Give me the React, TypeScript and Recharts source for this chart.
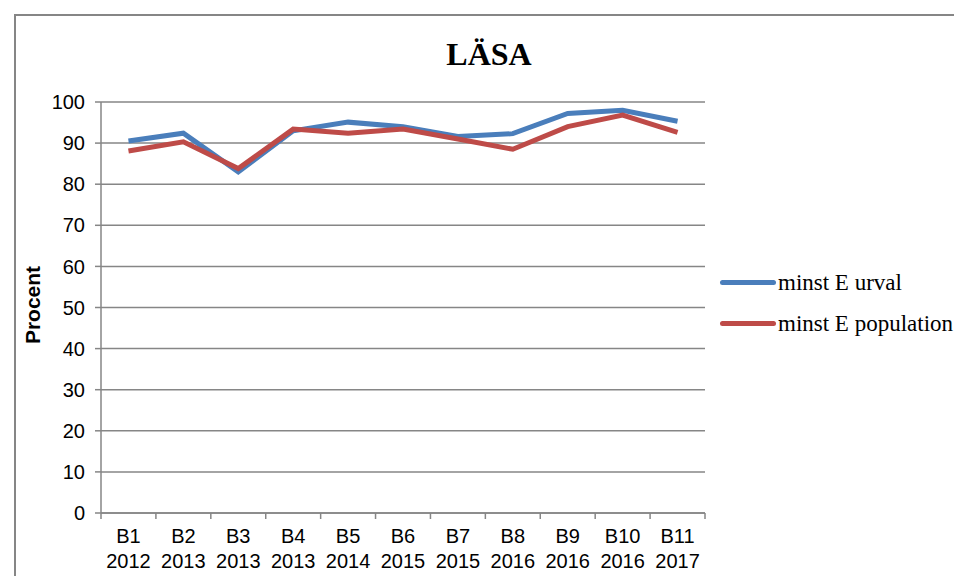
import { CartesianGrid, Line, LineChart, XAxis, YAxis } from "recharts";

const ROUNDS = ["B1", "B2", "B3", "B4", "B5", "B6", "B7", "B8", "B9", "B10", "B11"];
const YEARS = ["2012", "2013", "2013", "2013", "2014", "2015", "2015", "2016", "2016", "2016", "2017"];
const URVAL = [90.5, 92.4, 83, 93, 95.1, 94, 91.6, 92.3, 97.2, 98, 95.3];
const POPULATION = [88.1, 90.3, 83.8, 93.4, 92.4, 93.4, 91, 88.5, 94, 96.8, 92.6];
const Y_TICKS = [0, 10, 20, 30, 40, 50, 60, 70, 80, 90, 100];

const BLUE = "#4a7ebb";
const RED = "#be4b48";
const GRAY = "#868686";
const SANS = "'Liberation Sans', Arial, sans-serif";
const SERIF = "'Liberation Serif', 'Times New Roman', serif";

const W = 962;
const H = 584;
const PLOT_LEFT = 101;
const PLOT_RIGHT = 705;
const PLOT_TOP = 102;
const PLOT_BOTTOM = 513;
const Y_AXIS_W = 60;
const X_AXIS_H = 60;
const BAND = (PLOT_RIGHT - PLOT_LEFT) / ROUNDS.length;

const data = ROUNDS.map((r, i) => ({
  round: r,
  year: YEARS[i],
  urval: URVAL[i],
  population: POPULATION[i],
}));

function XTick(props: any) {
  const { x, y, index, payload } = props;
  const row = data[index] ?? { round: payload.value, year: "" };
  const last = index === data.length - 1;
  return (
    <g>
      <line x1={x - BAND / 2} x2={x - BAND / 2} y1={y} y2={y + 6} stroke={GRAY} strokeWidth={1.5} />
      {last && (
        <line x1={x + BAND / 2} x2={x + BAND / 2} y1={y} y2={y + 6} stroke={GRAY} strokeWidth={1.5} />
      )}
      <text x={x} y={y} textAnchor="middle" fontFamily={SANS} fontSize={20} fill="#000">
        <tspan x={x} dy={30}>{row.round}</tspan>
        <tspan x={x} dy={25}>{row.year}</tspan>
      </text>
    </g>
  );
}

const LEGEND = [
  { name: "minst E urval", color: BLUE },
  { name: "minst E population", color: RED },
];

export default function App() {
  return (
    <div style={{ position: "relative", width: W, height: H, margin: -8, overflow: "hidden", background: "#fff" }}>
      <div
        style={{
          position: "absolute",
          left: 14,
          top: 14,
          width: 1000,
          height: 1000,
          border: `2px solid ${GRAY}`,
        }}
      />
      <div
        style={{
          position: "absolute",
          left: 0,
          width: 978,
          top: 34,
          textAlign: "center",
          fontFamily: SERIF,
          fontWeight: "bold",
          fontSize: 32,
          lineHeight: "40px",
        }}
      >
        LÄSA
      </div>
      <div
        style={{
          position: "absolute",
          left: 33,
          top: 305,
          transform: "translate(-50%, -50%) rotate(-90deg)",
          fontFamily: SANS,
          fontWeight: "bold",
          fontSize: 21,
          whiteSpace: "nowrap",
        }}
      >
        Procent
      </div>
      <div style={{ position: "absolute", left: 0, top: 0 }}>
        <LineChart
          width={W}
          height={H}
          data={data}
          margin={{
            top: PLOT_TOP,
            right: W - PLOT_RIGHT,
            bottom: H - PLOT_BOTTOM - X_AXIS_H,
            left: PLOT_LEFT - Y_AXIS_W,
          }}
        >
          <CartesianGrid vertical={false} stroke={GRAY} strokeWidth={1.5} />
          <XAxis
            dataKey="round"
            scale="band"
            height={X_AXIS_H}
            interval={0}
            tickSize={0}
            tickMargin={0}
            tickLine={false}
            axisLine={{ stroke: GRAY, strokeWidth: 1.5 }}
            tick={<XTick />}
          />
          <YAxis
            width={Y_AXIS_W}
            domain={[0, 100]}
            ticks={Y_TICKS}
            interval={0}
            tickSize={6}
            tickMargin={10}
            axisLine={{ stroke: GRAY, strokeWidth: 1.5 }}
            tickLine={{ stroke: GRAY, strokeWidth: 1.5 }}
            tick={{ fontFamily: SANS, fontSize: 20, fill: "#000" }}
          />
          <Line
            type="linear"
            dataKey="urval"
            name="minst E urval"
            stroke={BLUE}
            strokeWidth={5}
            dot={false}
            isAnimationActive={false}
          />
          <Line
            type="linear"
            dataKey="population"
            name="minst E population"
            stroke={RED}
            strokeWidth={5}
            dot={false}
            isAnimationActive={false}
          />
        </LineChart>
      </div>
      <div style={{ position: "absolute", left: 720, top: 262 }}>
        {LEGEND.map((item) => (
          <div key={item.name} style={{ display: "flex", alignItems: "center", height: 41 }}>
            <span
              style={{
                display: "inline-block",
                width: 56,
                height: 5,
                borderRadius: 3,
                background: item.color,
              }}
            />
            <span style={{ fontFamily: SERIF, fontSize: 23, marginLeft: 2, whiteSpace: "nowrap" }}>
              {item.name}
            </span>
          </div>
        ))}
      </div>
    </div>
  );
}
